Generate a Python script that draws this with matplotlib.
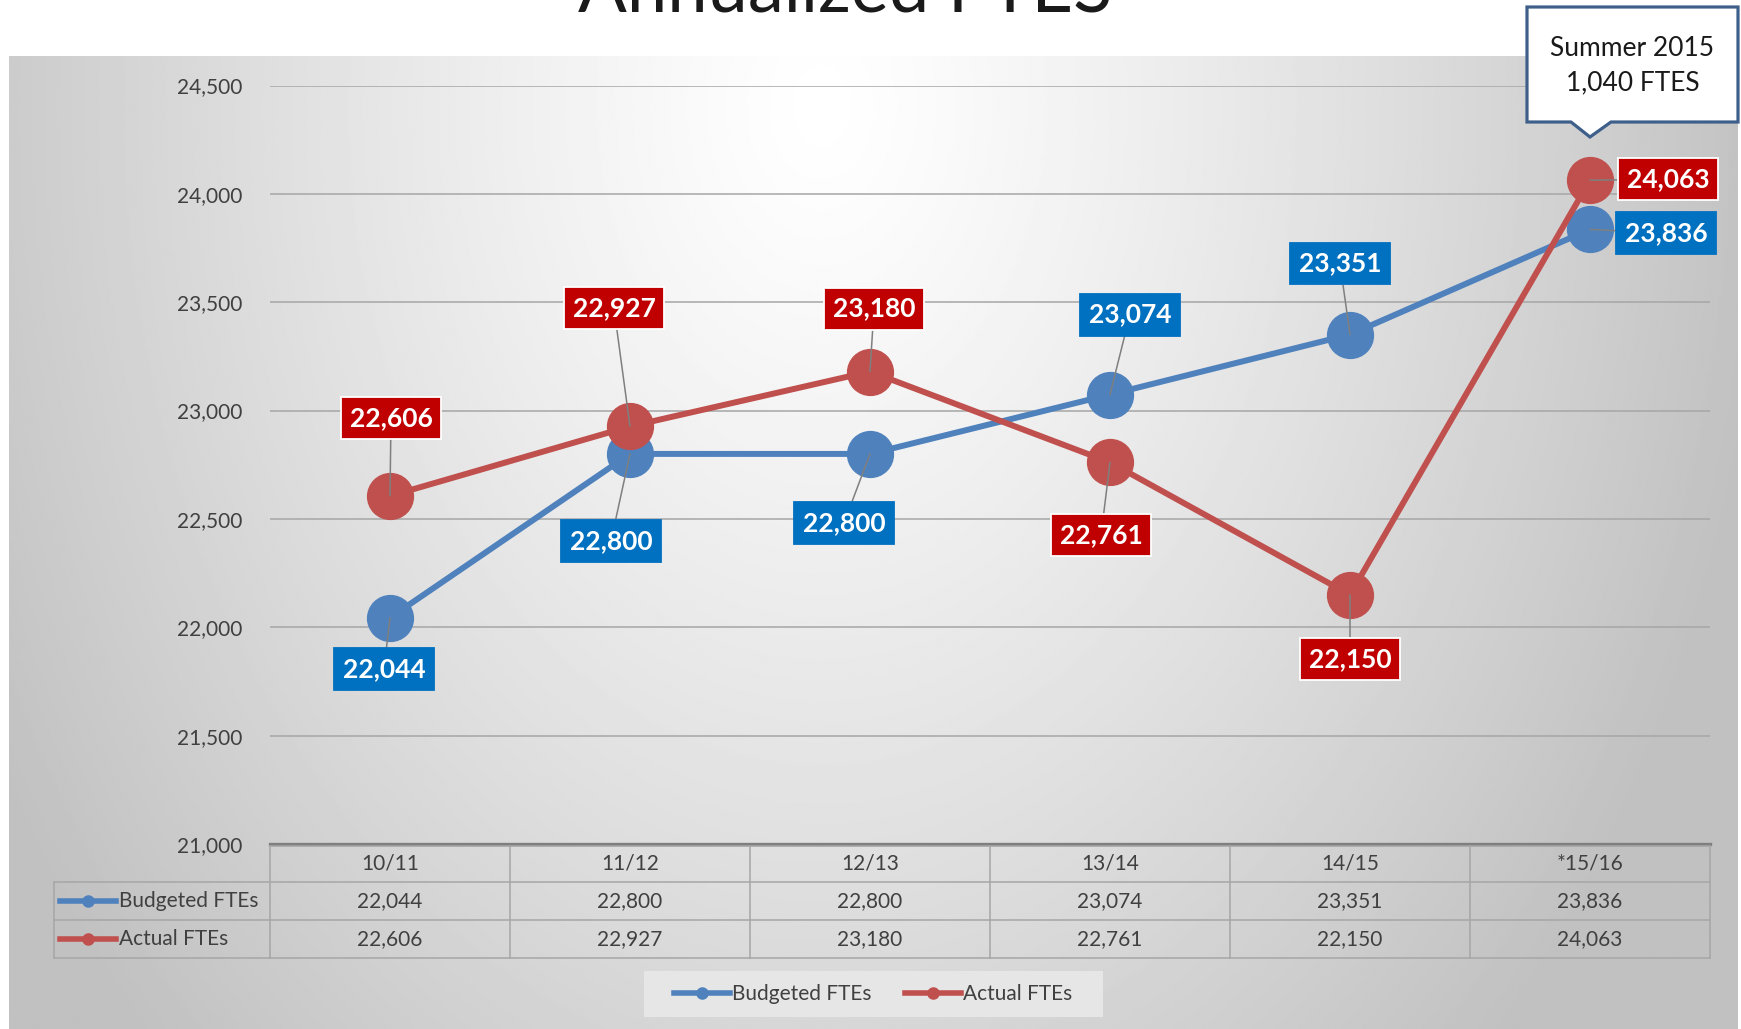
import numpy as np
import matplotlib
matplotlib.use("Agg")
import matplotlib.pyplot as plt
from matplotlib.lines import Line2D
from matplotlib.patches import Polygon, Rectangle

plt.rcParams['font.family'] = ['Lato', 'DejaVu Sans']

# ---------------- data ----------------
categories = ["10/11", "11/12", "12/13", "13/14", "14/15", "*15/16"]
budgeted = [22044, 22800, 22800, 23074, 23351, 23836]
actual = [22606, 22927, 23180, 22761, 22150, 24063]
series_names = ["Budgeted FTEs", "Actual FTEs"]
title_text = "Annualized FTES"
callout_text = "Summer 2015\n1,040 FTES"
y_ticks = [21000, 21500, 22000, 22500, 23000, 23500, 24000, 24500]

# label offsets (pixels, from point) -- layout only
budget_offsets = [(-6, -51), (-19, -87), (-26, -69), (20, 80), (-10, 71), (76, -4)]
actual_offsets = [(1, 78), (-16, 118), (4, 63), (-9, -73), (0, -64), (78, 1)]

BLUE_LINE = '#4F81BD'
RED_LINE = '#C0504D'
BLUE_BOX = '#0070C0'
RED_BOX = '#C00000'
TXT = '#404040'

W, H = 1741, 1029
fig = plt.figure(figsize=(W / 100, H / 100), dpi=100)
fig.patch.set_facecolor('white')

def fx(px):
    return px / W

def fy(py):
    return 1 - py / H

# ---------------- gradient background ----------------
bg = fig.add_axes([fx(9), 0, fx(1738) - fx(9), fy(56)], zorder=0)
ny, nx = 400, 700
xx, yy = np.meshgrid(np.linspace(0, 1, nx), np.linspace(0, 1, ny))
d = np.sqrt(((xx - 0.47) / 0.55) ** 2 + ((yy - 0.05) / 1.36) ** 2)
grad = 1.0 - (62 / 255) * np.clip(d, 0, 1) ** 1.2
bg.imshow(grad, aspect='auto', extent=[0, 1, 1, 0], cmap='gray', vmin=0, vmax=1,
          interpolation='bilinear')
bg.set_xlim(0, 1)
bg.set_ylim(1, 0)
bg.axis('off')

# ---------------- main axes ----------------
ax = fig.add_axes([fx(270), fy(844), fx(1710) - fx(270), fy(85.5) - fy(844)], zorder=2)
ax.set_facecolor('none')
ax.set_xlim(-0.5, len(categories) - 0.5)
ax.set_ylim(y_ticks[0], y_ticks[-1])
for s in ax.spines.values():
    s.set_visible(False)
ax.set_xticks([])
ax.set_yticks(y_ticks)
ax.set_yticklabels([f"{t:,}" for t in y_ticks])
ax.tick_params(axis='y', length=0, pad=20, labelsize=15, labelcolor=TXT)
for t in y_ticks[1:]:
    ax.axhline(t, color='#A6A6A6', lw=1.1, zorder=1)
ax.axhline(y_ticks[0], color='#7F7F7F', lw=2.4, zorder=1, clip_on=False)

x = np.arange(len(categories))
ax.plot(x, budgeted, color=BLUE_LINE, lw=4.3, marker='o', ms=33, zorder=3,
        solid_joinstyle='round')
ax.plot(x, actual, color=RED_LINE, lw=4.3, marker='o', ms=33, zorder=4,
        solid_joinstyle='round')

def add_labels(vals, offs, fc, ec):
    for i, (v, (dx, dy)) in enumerate(zip(vals, offs)):
        ax.annotate(f"{v:,}", xy=(i, v), xytext=(dx, dy), textcoords='offset pixels',
                    ha='center', va='center', fontsize=19, fontweight='bold', color='white',
                    bbox=dict(boxstyle='square,pad=0.34', fc=fc, ec=ec, lw=1.3),
                    arrowprops=dict(arrowstyle='-', color='#7F7F7F', lw=1.1,
                                    shrinkA=0, shrinkB=0),
                    zorder=6, annotation_clip=False)

add_labels(budgeted, budget_offsets, BLUE_BOX, BLUE_BOX)
add_labels(actual, actual_offsets, RED_BOX, 'white')

# ---------------- data table ----------------
col_left, col_w = 270, 240
row_left = 54
y_head_top, y_r1, y_r2, y_bot = 846, 882, 920, 958
GRID = '#A6A6A6'

def fline(x0, y0, x1, y1, color=GRID, lw=1.1):
    fig.add_artist(Line2D([fx(x0), fx(x1)], [fy(y0), fy(y1)], color=color, lw=lw,
                          transform=fig.transFigure, zorder=3))

n = len(categories)
right = col_left + n * col_w
fline(col_left, y_head_top, right, y_head_top)
for yy_ in (y_r1, y_r2, y_bot):
    fline(row_left, yy_, right, yy_)
fline(row_left, y_r1, row_left, y_bot)
for k in range(n + 1):
    fline(col_left + k * col_w, y_head_top, col_left + k * col_w, y_bot)

rows = [(categories, (y_head_top + y_r1) / 2),
        ([f"{v:,}" for v in budgeted], (y_r1 + y_r2) / 2),
        ([f"{v:,}" for v in actual], (y_r2 + y_bot) / 2)]
for texts, yc in rows:
    for k, t in enumerate(texts):
        fig.text(fx(col_left + (k + 0.5) * col_w), fy(yc), t, ha='center', va='center',
                 fontsize=15, color=TXT, zorder=4)

for name, color, yc in [(series_names[0], BLUE_LINE, (y_r1 + y_r2) / 2),
                        (series_names[1], RED_LINE, (y_r2 + y_bot) / 2)]:
    fig.add_artist(Line2D([fx(60), fx(116)], [fy(yc), fy(yc)], color=color, lw=4,
                          transform=fig.transFigure, zorder=4))
    fig.add_artist(Line2D([fx(88)], [fy(yc)], color=color, marker='o', ms=8,
                          transform=fig.transFigure, zorder=4))
    fig.text(fx(119), fy(yc), name, ha='left', va='center', fontsize=15, color=TXT, zorder=4)

# ---------------- legend ----------------
fig.add_artist(Rectangle((fx(644), fy(1017)), fx(1103) - fx(644), fy(971) - fy(1017),
                         transform=fig.transFigure, fc='#E6E6E6', ec='none', zorder=4))
handles = [Line2D([], [], color=BLUE_LINE, lw=4, marker='o', ms=8),
           Line2D([], [], color=RED_LINE, lw=4, marker='o', ms=8)]
leg = fig.legend(handles, series_names, loc='center', bbox_to_anchor=(fx(873), fy(994)),
                 ncol=2, frameon=False, fontsize=15, handlelength=2.7, handletextpad=0.1,
                 columnspacing=1.6, borderpad=0.3, labelcolor=TXT)
leg.set_zorder(5)

# ---------------- title ----------------
fig.text(fx(845), fy(12), title_text, ha='center', va='baseline', fontsize=52,
         fontweight='normal', color='#1A1A1A', zorder=5)

# ---------------- callout ----------------
fig.canvas.draw()
tip_x = ax.transData.transform((n - 1, 0))[0]
bx0, bx1, by0, by1 = 1527, 1738, 7, 122
pts = [(bx0, by0), (bx1, by0), (bx1, by1), (tip_x + 21, by1), (tip_x, 137),
       (tip_x - 19, by1), (bx0, by1)]
poly = Polygon([(fx(px), fy(py)) for px, py in pts], closed=True, transform=fig.transFigure,
               fc='white', ec='#3E5F8A', lw=2.3, zorder=7, joinstyle='miter')
fig.add_artist(poly)
fig.text(fx((bx0 + bx1) / 2), fy((by0 + by1) / 2 + 1), callout_text, ha='center', va='center',
         fontsize=19, color='#1A1A1A', linespacing=1.5, zorder=8)

fig.savefig('out.png', dpi=100)
